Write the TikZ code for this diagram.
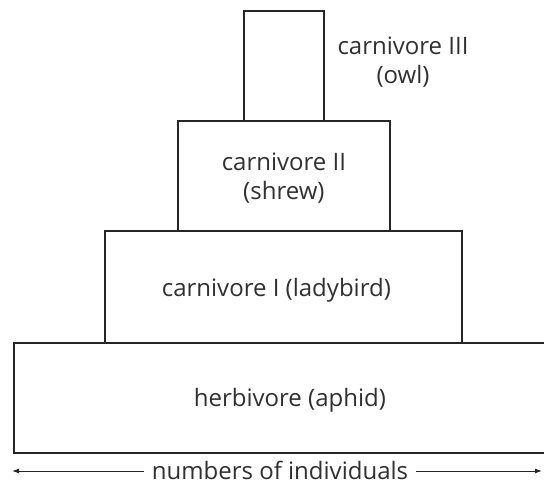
\documentclass[tikz,border=0pt]{standalone}
\usepackage{fontspec}
\setmainfont{Open Sans}
\usetikzlibrary{arrows.meta}
\definecolor{txt}{HTML}{303030}
\begin{document}
\begin{tikzpicture}[x=1pt,y=-1pt,
  level/.style={draw=black!85,line width=1.8pt,rectangle,inner sep=0pt,anchor=north west},
  lab/.style={text=txt,font=\fontsize{24}{28.5}\selectfont,align=center},
  axis/.style={line width=1pt,black!85,-{Latex[length=7pt,width=5pt]}}]
\useasboundingbox (0,0) rectangle (544,487);
\node[level,minimum width=80pt,minimum height=110pt] (c3) at (243,10) {};
\node[level,minimum width=212pt,minimum height=110pt] (c2) at (177,120) {};
\node[level,minimum width=357pt,minimum height=112pt] (c1) at (104,230) {};
\node[level,minimum width=540pt,minimum height=110pt] (h) at (13,342) {};
\node[lab] (t3) at (403,62) {carnivore III\\(owl)};
\node[lab] at ([yshift=-2pt]c2.center) {carnivore II\\(shrew)};
\node[lab] at ([xshift=-7pt,yshift=-3pt]c1.center) {carnivore I (ladybird)};
\node[lab] at ([xshift=6pt,yshift=-2pt]h.center) {herbivore (aphid)};
\node[lab,inner xsep=8pt] (ax) at (280,470) {numbers of individuals};
\coordinate (L) at (12,471);
\coordinate (R) at (542,471);
\draw[axis] (ax.west|-L) -- (L);
\draw[axis] (ax.east|-R) -- (R);
\end{tikzpicture}
\end{document}
